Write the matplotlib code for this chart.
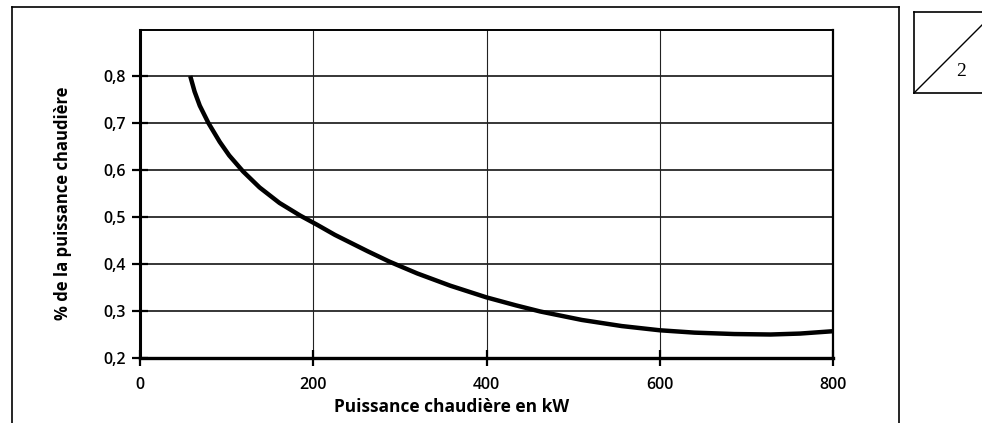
import matplotlib
matplotlib.use("Agg")
import matplotlib.pyplot as plt
from matplotlib.lines import Line2D

# Data
power_kw = [58, 63, 69, 79, 92, 103, 119, 138, 161, 185, 204, 225, 263, 288,
            320, 358, 400, 434, 462, 510, 556, 600, 640, 686, 728, 762, 800]
fraction = [0.800, 0.767, 0.737, 0.700, 0.660, 0.631, 0.597, 0.563, 0.530,
            0.503, 0.484, 0.462, 0.427, 0.405, 0.380, 0.354, 0.329, 0.312,
            0.299, 0.281, 0.268, 0.259, 0.254, 0.251, 0.250, 0.252, 0.257]
x_ticks = [0, 200, 400, 600, 800]
x_tick_labels = ["0", "200", "400", "600", "800"]
y_ticks = [0.2, 0.3, 0.4, 0.5, 0.6, 0.7, 0.8]
y_tick_labels = ["0,2", "0,3", "0,4", "0,5", "0,6", "0,7", "0,8"]
x_label = "Puissance chaudière en kW"
y_label = "% de la puissance chaudière"
box_label = "2"

W, H = 982, 423
fig = plt.figure(figsize=(W / 100, H / 100), dpi=100)
fig.patch.set_facecolor("white")

def fx(px):
    return px / W

def fy(py):
    return 1 - py / H

ax = fig.add_axes([fx(140), fy(358), fx(833) - fx(140), fy(30) - fy(358)])
ax.plot(power_kw, fraction, color="black", lw=3.2, solid_capstyle="butt",
        solid_joinstyle="round", zorder=5)

ax.set_xlim(0, 800)
ax.set_ylim(0.2, 0.898)
ax.set_xticks(x_ticks)
ax.set_xticklabels(x_tick_labels)
ax.set_yticks(y_ticks)
ax.set_yticklabels(y_tick_labels)

for v in y_ticks[1:]:
    ax.axhline(v, color="black", lw=1.1, zorder=1)
for v in x_ticks[1:-1]:
    ax.axvline(v, color="#222222", lw=0.8, zorder=1)

ax.spines["left"].set_linewidth(2.2)
ax.spines["bottom"].set_linewidth(2.4)
ax.spines["top"].set_linewidth(1.4)
ax.spines["right"].set_linewidth(1.6)

font = "Open Sans"
ax.tick_params(axis="both", direction="inout", length=12, width=1.6,
               colors="black", labelsize=11.5)
ax.tick_params(axis="y", pad=4)
ax.tick_params(axis="x", pad=8)
for lab in ax.get_xticklabels() + ax.get_yticklabels():
    lab.set_fontfamily(font)
    lab.set_fontweight("semibold")

ax.set_xlabel(x_label, fontfamily=font, fontweight="bold", fontsize=12.5)
ax.xaxis.label.set_va("center")
ax.xaxis.set_label_coords(0.45, -0.149)
ax.set_ylabel(y_label, fontfamily=font, fontweight="bold", fontsize=12)
ax.yaxis.label.set_va("center")
ax.yaxis.set_label_coords(-0.111, 0.473)

# Outer frame
lw_frame = 1.2
fig.add_artist(Line2D([fx(12), fx(899)], [fy(7), fy(7)], color="black",
                      lw=lw_frame, transform=fig.transFigure))
fig.add_artist(Line2D([fx(12), fx(12)], [fy(7), fy(423)], color="black",
                      lw=lw_frame, transform=fig.transFigure))
fig.add_artist(Line2D([fx(899), fx(899)], [fy(7), fy(423)], color="black",
                      lw=lw_frame, transform=fig.transFigure))

# Small box at top right
fig.add_artist(Line2D([fx(914), fx(985)], [fy(12), fy(12)], color="black",
                      lw=lw_frame, transform=fig.transFigure))
fig.add_artist(Line2D([fx(914), fx(914)], [fy(12), fy(93)], color="black",
                      lw=lw_frame, transform=fig.transFigure))
fig.add_artist(Line2D([fx(914), fx(985)], [fy(93), fy(93)], color="black",
                      lw=lw_frame, transform=fig.transFigure))
fig.add_artist(Line2D([fx(914), fx(995)], [fy(93), fy(12)], color="black",
                      lw=1.0, transform=fig.transFigure))
fig.text(fx(961), fy(72), box_label, fontfamily="Liberation Serif",
         fontsize=14, ha="center", va="center")

fig.savefig("out.png", dpi=100, facecolor="white")
